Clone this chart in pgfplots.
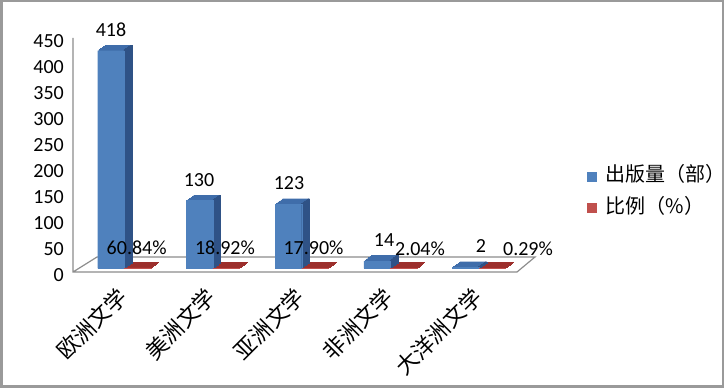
\documentclass[border=0pt]{standalone}
\usepackage{fontspec}
\setmainfont{Carlito}
\newfontfamily\cjk{Noto Sans CJK SC}
\usepackage{pgfplots}
\pgfplotsset{compat=1.18}
\definecolor{blueF}{HTML}{4F81BD}
\definecolor{blueT}{HTML}{3F6DAA}
\definecolor{blueS}{HTML}{2F5286}
\definecolor{redF}{HTML}{C0504D}
\definecolor{redT}{HTML}{9C2F2C}
\definecolor{floorC}{HTML}{8C8C8C}
\definecolor{frameC}{HTML}{9A9A9A}
\begin{document}
\begin{tikzpicture}[x=1pt,y=1pt]
\useasboundingbox (0,0) rectangle (724,388);
\draw[frameC, line width=2.5pt] (1.25,1.25) rectangle (722.75,386.75);
\draw[floorC, line width=1.2pt] (73,350) -- (73,116) -- (517,116) -- (535,131) -- (97,131) -- (73,116);
\begin{axis}[
  at={(73pt,119.7pt)}, anchor=south west, scale only axis,
  width=444pt, height=234.3pt,
  xmin=-0.578, xmax=4.427, ymin=0, ymax=450,
  clip=false, axis line style={draw=none}, major tick length=0pt,
  xtick={0,1,2,3,4},
  xticklabels={欧洲文学,美洲文学,亚洲文学,非洲文学,大洋洲文学},
  xticklabel style={font=\cjk\fontsize{22}{26}\selectfont, xshift=1pt, yshift=-22pt, rotate=45, anchor=east},
  ytick={0,50,...,450},
  yticklabel style={font=\fontsize{20}{24}\selectfont, xshift=-5.6pt, yshift=-6.7pt},
  /pgf/number format/assume math mode=true,
  legend style={at={(1.158,0.447)}, anchor=north west, draw=none, fill=none,
    font=\cjk\fontsize{20}{24}\selectfont, row sep=11pt, inner sep=0pt,
    nodes={inner sep=1pt}},
  legend cell align=left,
]
% red depth (flat top faces)
\pgfplotsinvokeforeach{1,...,8}{
\addplot[forget plot, ybar, bar width=26.5pt, bar shift=13.3pt, fill=redT, draw=redT, line width=0.5pt,
  xshift=#1*0.95pt, yshift=#1*0.7pt]
  coordinates {(0,0.6084) (1,0.1892) (2,0.1790) (3,0.0204) (4,0.0029)};
}
% blue depth (top faces)
\pgfplotsinvokeforeach{1,...,8}{
\addplot[forget plot, ybar, bar width=26.5pt, bar shift=-13.3pt, fill=blueT, draw=blueT, line width=0.3pt,
  xshift=#1*0.95pt, yshift=#1*0.7pt]
  coordinates {(0,418) (1,130) (2,123) (3,14) (4,2)};
}
% blue side faces
\pgfplotsinvokeforeach{1,...,8}{
\addplot[forget plot, ybar, bar width=1.5pt, bar shift=-0.8pt, fill=blueS, draw=blueS, line width=0.3pt,
  xshift=#1*0.95pt, yshift=#1*0.7pt]
  coordinates {(0,418) (1,130) (2,123) (3,14) (4,2)};
}
\addplot[ybar, bar width=26.5pt, bar shift=-13.3pt, fill=blueF, draw=blueF, line width=0.3pt,
  legend image code/.code={\fill[blueF] (0pt,-7pt) rectangle (9pt,2pt); \path (17pt,0pt);}]
  coordinates {(0,418) (1,130) (2,123) (3,14) (4,2)};
\addlegendentry{出版量（部）}
\addplot[ybar, bar width=26.5pt, bar shift=13.3pt, fill=redF, draw=redF, line width=0.5pt,
  legend image code/.code={\fill[redF] (0pt,-7pt) rectangle (9pt,2pt); \path (17pt,0pt);}]
  coordinates {(0,0.6084) (1,0.1892) (2,0.1790) (3,0.0204) (4,0.0029)};
\addlegendentry{比例（\%）}
% data labels
\addplot[forget plot, draw=none, mark=none, nodes near coords, point meta=explicit symbolic,
  nodes near coords style={anchor=center, yshift=21pt, font=\fontsize{20}{24}\selectfont, text=black}]
  coordinates {(-0.15,418) [418] (0.842,130) [130] (1.857,123) [123] (2.928,14) [14] (4.021,2) [2]};
\addplot[forget plot, draw=none, mark=none, nodes near coords, point meta=explicit symbolic,
  nodes near coords style={anchor=center, yshift=20pt, font=\fontsize{20}{24}\selectfont, text=black}]
  coordinates {(0.14,0.6084) [60.84\%] (1.135,0.1892) [18.92\%] (2.133,0.1790) [17.90\%] (3.334,0.0204) [2.04\%] (4.551,0.0029) [0.29\%]};
\end{axis}
\end{tikzpicture}
\end{document}
